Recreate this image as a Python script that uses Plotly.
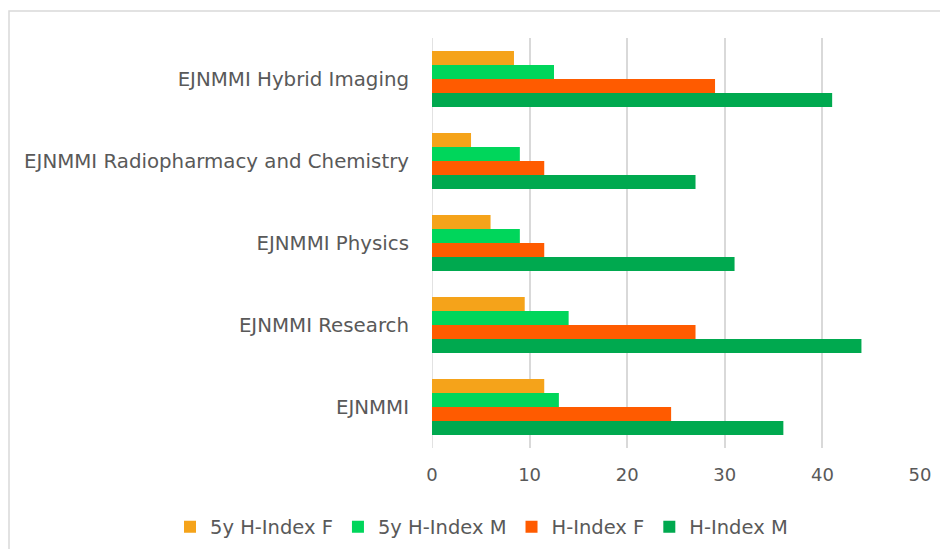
import plotly.graph_objects as go

categories = ["EJNMMI", "EJNMMI Research", "EJNMMI Physics",
              "EJNMMI Radiopharmacy and Chemistry", "EJNMMI Hybrid Imaging"]
h_index_m = [36, 44, 31, 27, 41]
h_index_f = [24.5, 27, 11.5, 11.5, 29]
h5_index_m = [13, 14, 9, 9, 12.5]
h5_index_f = [11.5, 9.5, 6, 4, 8.4]
x_ticks = [0, 10, 20, 30, 40, 50]

series = [
    ("H-Index M", h_index_m, "#00A94F"),
    ("H-Index F", h_index_f, "#FF5B00"),
    ("5y H-Index M", h5_index_m, "#00D65B"),
    ("5y H-Index F", h5_index_f, "#F5A31A"),
]

fig = go.Figure()
for name, vals, color in series:
    fig.add_trace(go.Bar(
        y=categories, x=vals, name=name, orientation="h",
        marker=dict(color=color, line=dict(width=0)),
    ))

# page body has an 8px margin; figure coordinates are offset by it
OFF = 8
W, H = 948 - 2 * OFF, 557 - 2 * OFF
px_left, px_right, px_top, px_bottom = 432 - OFF, 920 - OFF, 38 - OFF, 448 - OFF
L, R, T, B = px_left, W - px_right, px_top, H - px_bottom
w_plot = px_right - px_left
h_plot = px_bottom - px_top

def paper_x(px):
    return (px - OFF - px_left) / w_plot

def paper_y(py):
    return (px_bottom - (py - OFF)) / h_plot

fig.update_layout(
    width=W, height=H,
    margin=dict(l=L, r=R, t=T, b=B, autoexpand=False),
    barmode="group", bargap=0.32, bargroupgap=0,
    plot_bgcolor="white", paper_bgcolor="white",
    font=dict(family="DejaVu Sans", size=19.8, color="#595959"),
    showlegend=True,
    legend=dict(orientation="h", traceorder="reversed",
                x=paper_x(170), xanchor="left",
                y=paper_y(527), yanchor="middle",
                font=dict(family="DejaVu Sans", size=19.5, color="#595959"),
                itemwidth=30, bgcolor="rgba(0,0,0,0)"),
    xaxis=dict(range=[0, 50], tickvals=x_ticks, showgrid=True,
               gridcolor="#D9D9D9", gridwidth=1.5, zeroline=False,
               showline=False, ticklabelstandoff=14,
               tickfont=dict(size=18)),
    yaxis=dict(showgrid=False, zeroline=False, showline=False,
               ticks="", ticklabelstandoff=22),
)
# outer light-gray chart border
fig.add_shape(type="rect", xref="paper", yref="paper",
              x0=paper_x(9), x1=paper_x(970),
              y0=paper_y(580), y1=paper_y(11),
              line=dict(color="#D9D9D9", width=1.5), layer="below")
# left axis line at zero
fig.add_shape(type="line", xref="x", yref="paper", x0=0, x1=0, y0=0, y1=1,
              line=dict(color="#D9D9D9", width=1.5), layer="below")

fig.write_html("out.html")
